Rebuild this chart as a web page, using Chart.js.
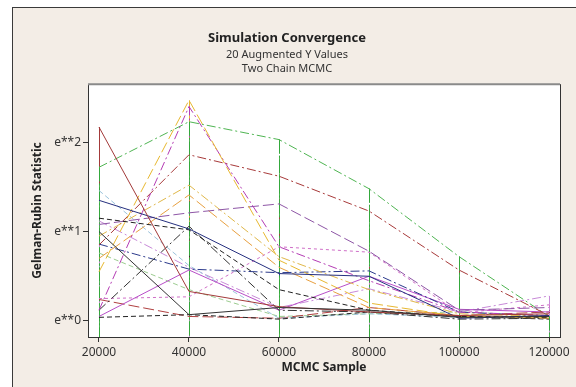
<!DOCTYPE html>
<html>
<head>
<meta charset="utf-8">
<script src="https://cdn.jsdelivr.net/npm/chart.js@4"></script>
<style>
  html, body { margin: 0; padding: 0; background: #fff; }
  #wrap { position: relative; width: 576px; height: 387px; overflow: hidden; }
  #frame {
    position: absolute; left: 12px; top: 7px; width: 600px; height: 400px;
    background: #f3ede6; border-left: 1px solid #3a3a3a; border-top: 1px solid #3a3a3a;
  }
  canvas { position: absolute; left: 0; top: 0; }
</style>
</head>
<body>
<div id="wrap">
  <div id="frame"></div>
  <canvas id="chart" width="576" height="387"></canvas>
</div>
<script>
// MCMC sample sizes
const samples = [20000, 40000, 60000, 80000, 100000, 120000];
const xTicks = [20000, 40000, 60000, 80000, 100000, 120000];
const yTicks = [0, 1, 2];

// Gelman-Rubin statistic per augmented Y value, stored as natural log (axis is e**k)
const y01 = [1.00, 0.07, 0.15, 0.12, 0.04, 0.05];
const y02 = [2.17, 0.33, 0.16, 0.10, 0.06, 0.08];
const y03 = [1.35, 1.03, 0.53, 0.50, 0.03, 0.06];
const y04 = [1.15, 1.02, 0.35, 0.12, 0.05, 0.04];
const y05 = [0.55, 2.47, 0.68, 0.20, 0.05, 0.04];
const y06 = [0.12, 2.40, 0.83, 0.45, 0.10, 0.06];
const y07 = [1.08, 1.21, 1.31, 0.78, 0.12, 0.15];
const y08 = [0.95, 1.52, 0.72, 0.35, 0.08, 0.05];
const y09 = [0.70, 1.41, 0.60, 0.15, 0.06, 0.03];
const y10 = [0.85, 1.86, 1.62, 1.23, 0.57, 0.06];
const y11 = [0.12, 1.06, 0.12, 0.10, 0.02, 0.03];
const y12 = [0.86, 0.58, 0.54, 0.56, 0.10, 0.05];
const y13 = [0.04, 0.07, 0.02, 0.10, 0.05, 0.02];
const y14 = [0.05, 0.57, 0.12, 0.50, 0.13, 0.10];
const y15 = [1.46, 0.62, 0.03, 0.08, 0.04, 0.05];
const y16 = [0.25, 0.27, 0.83, 0.77, 0.09, 0.18];
const y17 = [0.24, 0.05, 0.03, 0.15, 0.06, 0.10];
const y18 = [0.76, 0.35, 0.05, 0.08, 0.10, 0.06];
const y19 = [1.12, 0.60, 0.15, 0.36, 0.10, 0.28];
const y20 = [1.72, 2.23, 2.03, 1.48, 0.72, 0.05];

const series = [y01, y02, y03, y04, y05, y06, y07, y08, y09, y10,
                y11, y12, y13, y14, y15, y16, y17, y18, y19, y20];

const SOLID = [], DASH = [5, 3], LONG = [11, 4], DASHDOT = [9, 3, 2, 3], SHORT = [3, 3];
const colors = ["#333333", "#a33a3a", "#26307f", "#222222", "#e8b830",
                "#b43cb4", "#8e56a6", "#e0b84a", "#e8a040", "#a83a3a",
                "#333333", "#2c3a8c", "#222222", "#b84ec8", "#9cc4dc",
                "#d070c8", "#b04040", "#9ccc90", "#c88ad8", "#4fb552"];
const dashes = [SOLID, SOLID, SOLID, DASH, LONG,
                DASHDOT, LONG, DASHDOT, LONG, DASHDOT,
                DASHDOT, DASHDOT, DASH, SOLID, DASH,
                SHORT, LONG, DASH, DASHDOT, DASHDOT];

const FONT = "'Noto Sans', 'DejaVu Sans', sans-serif";

function dropLine(ctx, pt, bottom) {
  const x = Math.round(pt.x) + 0.5;
  ctx.beginPath();
  ctx.moveTo(x, pt.y);
  ctx.lineTo(x, bottom);
  ctx.stroke();
}

const plotFrame = {
  id: "plotFrame",
  beforeDraw(chart) {
    const { ctx, chartArea: a } = chart;
    ctx.save();
    ctx.fillStyle = "#ffffff";
    ctx.fillRect(a.left, a.top, a.right - a.left, a.bottom - a.top);
    ctx.restore();
  },
  beforeDatasetsDraw(chart) {
    // project lines from each point down to the x axis
    const { ctx, chartArea: a } = chart;
    const n = chart.data.datasets.length;
    ctx.save();
    ctx.lineWidth = 1;
    chart.data.datasets.forEach((ds, i) => {
      ctx.strokeStyle = ds.borderColor;
      ctx.setLineDash(ds.borderDash);
      chart.getDatasetMeta(i).data.forEach((pt) => dropLine(ctx, pt, a.bottom));
    });
    // last series' projection on top
    ctx.strokeStyle = "#34a83c";
    ctx.setLineDash([14, 2, 2, 2]);
    chart.getDatasetMeta(n - 1).data.forEach((pt) => dropLine(ctx, pt, a.bottom));
    ctx.restore();
  },
  afterDraw(chart) {
    const { ctx, chartArea: a } = chart;
    ctx.save();
    ctx.strokeStyle = "#8a8a8a";
    ctx.lineWidth = 2;
    ctx.beginPath();
    ctx.moveTo(a.left, a.top);
    ctx.lineTo(a.right, a.top);
    ctx.stroke();
    ctx.strokeStyle = "#333333";
    ctx.lineWidth = 1;
    ctx.beginPath();
    ctx.moveTo(a.right + 0.5, a.top);
    ctx.lineTo(a.right + 0.5, a.bottom);
    ctx.stroke();
    ctx.restore();
  }
};

new Chart(document.getElementById("chart"), {
  type: "line",
  data: {
    datasets: series.map((vals, i) => ({
      label: "Y" + (i + 1),
      data: samples.map((x, j) => ({ x, y: vals[j] })),
      borderColor: colors[i],
      borderDash: dashes[i],
      borderWidth: 1,
      pointRadius: 0,
      tension: 0,
      fill: false
    }))
  },
  options: {
    responsive: false,
    animation: false,
    layout: { padding: { left: 14, right: 16, top: 0, bottom: 0 } },
    plugins: {
      legend: { display: false },
      tooltip: { enabled: false },
      title: {
        display: true,
        text: "Simulation Convergence",
        color: "#222",
        font: { family: FONT, size: 13, weight: "bold", lineHeight: 1.2 },
        padding: { top: 30, bottom: 2 }
      },
      subtitle: {
        display: true,
        text: ["20 Augmented Y Values", "Two Chain MCMC"],
        color: "#333",
        font: { family: FONT, size: 11, lineHeight: 1.3 },
        padding: { top: 0, bottom: 8 }
      }
    },
    scales: {
      x: {
        type: "linear",
        min: 17556,
        max: 122444,
        afterBuildTicks: (s) => { s.ticks = xTicks.map((v) => ({ value: v })); },
        afterFit: (s) => { s.height = 50; },
        ticks: {
          color: "#333",
          font: { family: FONT, size: 12 },
          padding: 3,
          maxRotation: 0,
          callback: (v) => String(v)
        },
        grid: { drawOnChartArea: false, drawTicks: true, tickLength: 5, tickColor: "#333" },
        border: { display: true, color: "#333" },
        title: {
          display: true,
          text: "MCMC Sample",
          color: "#222",
          font: { family: FONT, size: 12, weight: "bold", lineHeight: 1.2 },
          padding: { top: 0, bottom: 12 }
        }
      },
      y: {
        type: "linear",
        min: -0.18,
        max: 2.65,
        afterBuildTicks: (s) => { s.ticks = yTicks.map((v) => ({ value: v })); },
        afterFit: (s) => { s.width = 74; },
        ticks: {
          color: "#333",
          font: { family: FONT, size: 12 },
          padding: 2,
          callback: (v) => "e**" + v
        },
        grid: { drawOnChartArea: false, drawTicks: true, tickLength: 5, tickColor: "#333" },
        border: { display: true, color: "#333" },
        title: {
          display: true,
          text: "Gelman-Rubin Statistic",
          color: "#222",
          font: { family: FONT, size: 12, weight: "bold", lineHeight: 1.2 },
          padding: { top: 16, bottom: 0 }
        }
      }
    }
  },
  plugins: [plotFrame]
});
</script>
</body>
</html>
